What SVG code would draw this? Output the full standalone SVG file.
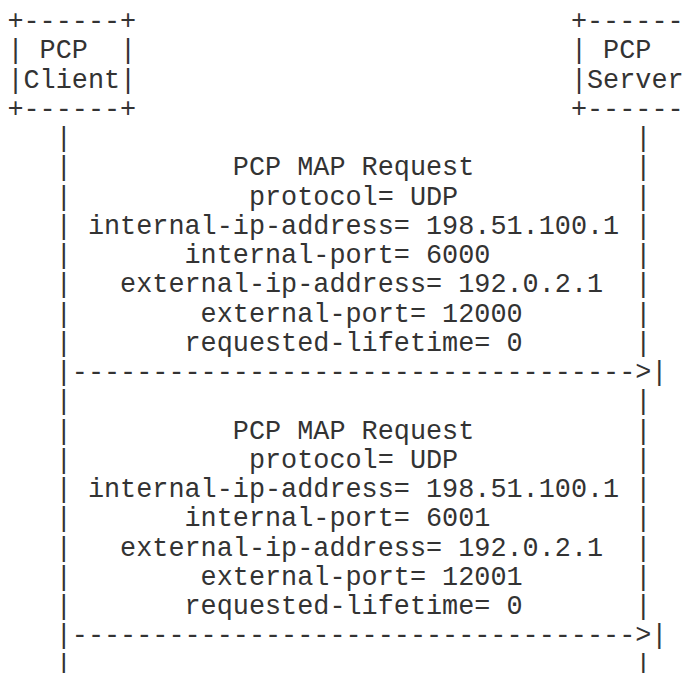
<svg xmlns="http://www.w3.org/2000/svg" width="687" height="673" viewBox="0 0 687 673">
<style>
text{font-family:"Liberation Mono","Courier New",monospace;font-size:26.83px;fill:#333;white-space:pre}
</style>
<rect width="687" height="673" fill="#fff"/>
<g id="client">
<text x="7.4" y="29" xml:space="preserve">+------+</text>
<text x="7.4" y="58.25" xml:space="preserve">| PCP  |</text>
<text x="7.4" y="87.5" xml:space="preserve">|Client|</text>
<text x="7.4" y="116.75" xml:space="preserve">+------+</text>
</g>
<g id="server">
<text x="570.9" y="29" xml:space="preserve">+-------</text>
<text x="570.9" y="58.25" xml:space="preserve">| PCP</text>
<text x="570.9" y="87.5" xml:space="preserve">|Server</text>
<text x="570.9" y="116.75" xml:space="preserve">+-------</text>
</g>
<g id="connectors">
<text><tspan x="55.7" y="146">|</tspan><tspan x="55.7" y="175.25">|</tspan><tspan x="55.7" y="204.5">|</tspan><tspan x="55.7" y="233.75">|</tspan><tspan x="55.7" y="263">|</tspan><tspan x="55.7" y="292.25">|</tspan><tspan x="55.7" y="321.5">|</tspan><tspan x="55.7" y="350.75">|</tspan><tspan x="55.7" y="409.25">|</tspan><tspan x="55.7" y="438.5">|</tspan><tspan x="55.7" y="467.75">|</tspan><tspan x="55.7" y="497">|</tspan><tspan x="55.7" y="526.25">|</tspan><tspan x="55.7" y="555.5">|</tspan><tspan x="55.7" y="584.75">|</tspan><tspan x="55.7" y="614">|</tspan><tspan x="55.7" y="672.5">|</tspan></text>
<text><tspan x="635.3" y="146">|</tspan><tspan x="635.3" y="175.25">|</tspan><tspan x="635.3" y="204.5">|</tspan><tspan x="635.3" y="233.75">|</tspan><tspan x="635.3" y="263">|</tspan><tspan x="635.3" y="292.25">|</tspan><tspan x="635.3" y="321.5">|</tspan><tspan x="635.3" y="350.75">|</tspan><tspan x="635.3" y="409.25">|</tspan><tspan x="635.3" y="438.5">|</tspan><tspan x="635.3" y="467.75">|</tspan><tspan x="635.3" y="497">|</tspan><tspan x="635.3" y="526.25">|</tspan><tspan x="635.3" y="555.5">|</tspan><tspan x="635.3" y="584.75">|</tspan><tspan x="635.3" y="614">|</tspan><tspan x="635.3" y="672.5">|</tspan></text>
<text x="55.7" y="380" xml:space="preserve">|----------------------------------->|</text>
<text x="55.7" y="643.25" xml:space="preserve">|----------------------------------->|</text>
</g>
<g id="msg1">
<text x="232.8" y="175.25">PCP MAP Request</text>
<text x="248.9" y="204.5">protocol= UDP</text>
<text x="87.9" y="233.75">internal-ip-address= 198.51.100.1</text>
<text x="184.5" y="263">internal-port= 6000</text>
<text x="120.1" y="292.25">external-ip-address= 192.0.2.1</text>
<text x="200.6" y="321.5">external-port= 12000</text>
<text x="184.5" y="350.75">requested-lifetime= 0</text>
</g>
<g id="msg2">
<text x="232.8" y="438.5">PCP MAP Request</text>
<text x="248.9" y="467.75">protocol= UDP</text>
<text x="87.9" y="497">internal-ip-address= 198.51.100.1</text>
<text x="184.5" y="526.25">internal-port= 6001</text>
<text x="120.1" y="555.5">external-ip-address= 192.0.2.1</text>
<text x="200.6" y="584.75">external-port= 12001</text>
<text x="184.5" y="614">requested-lifetime= 0</text>
</g>
</svg>
